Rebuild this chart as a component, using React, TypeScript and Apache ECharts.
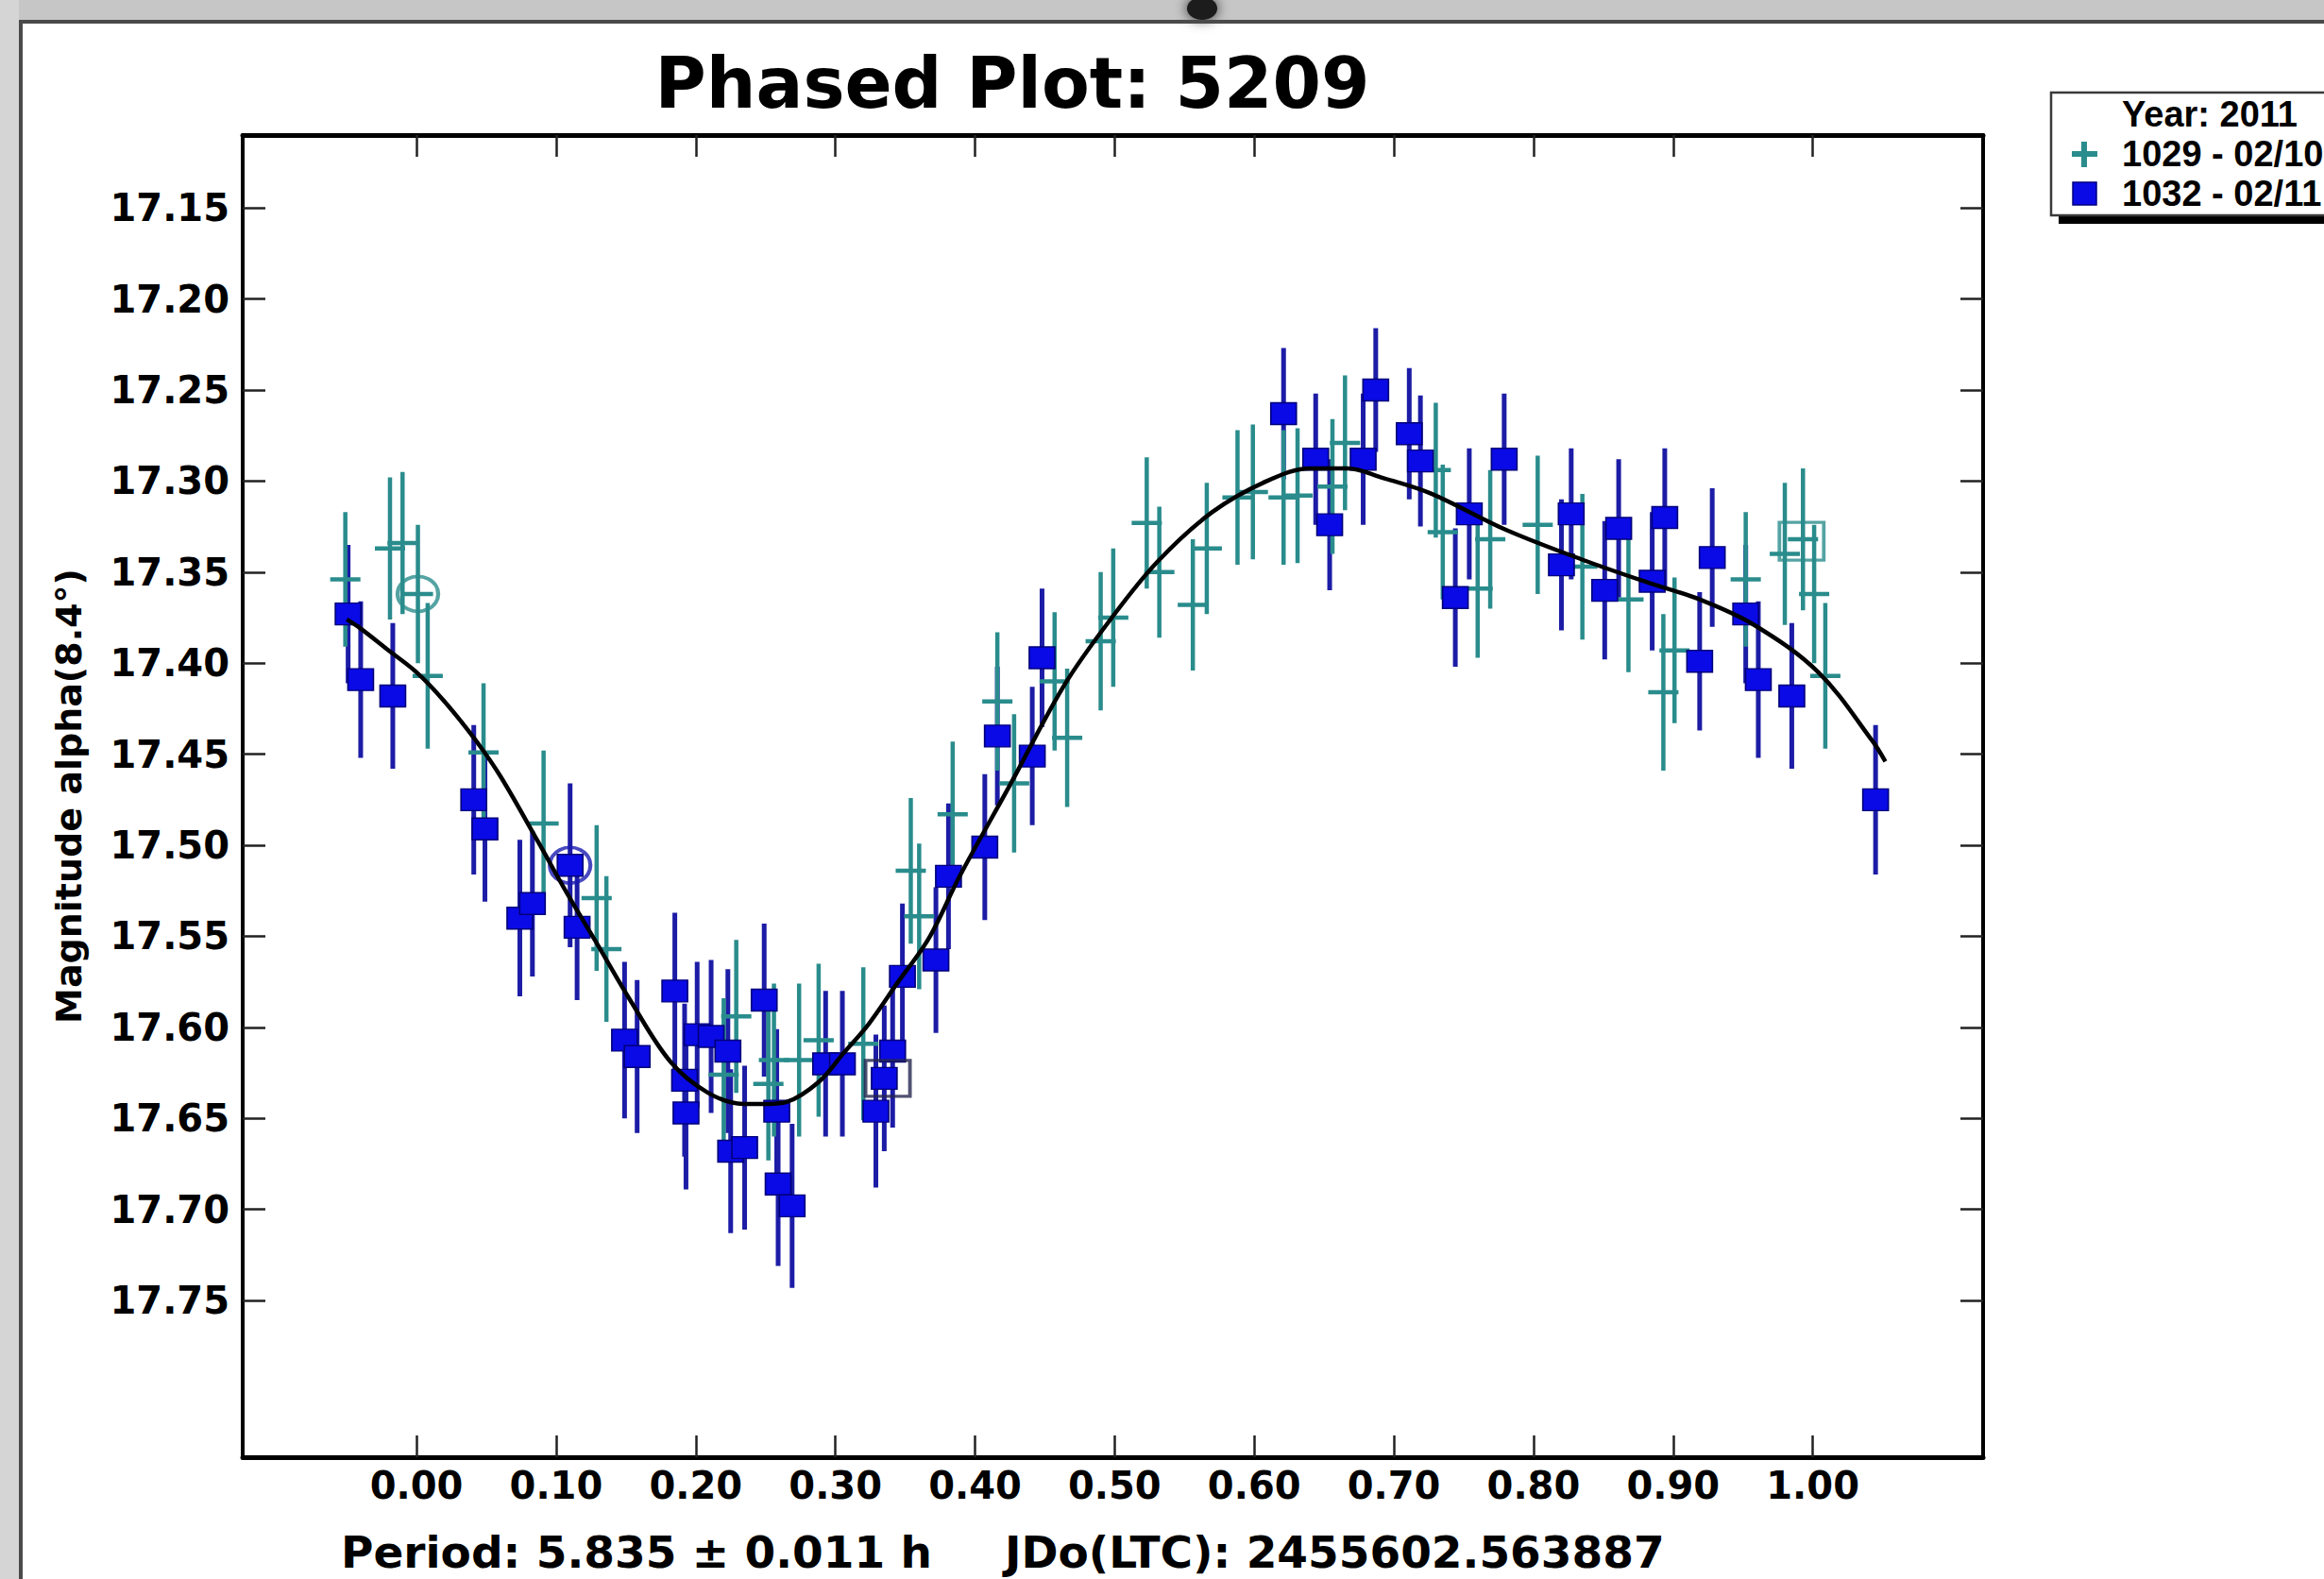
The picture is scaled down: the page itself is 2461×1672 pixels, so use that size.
import React, { useEffect, useRef } from "react";
import * as echarts from "echarts";

// ---------- data ----------
const xTicks = [0, 0.1, 0.2, 0.3, 0.4, 0.5, 0.6, 0.7, 0.8, 0.9, 1.0];
const yTicks = [17.15, 17.2, 17.25, 17.3, 17.35, 17.4, 17.45, 17.5, 17.55, 17.6, 17.65, 17.7, 17.75];

// session 1032 - 02/11 (blue squares)
const bluePhase = [
  -0.049, -0.04, -0.017, 0.041, 0.049, 0.074, 0.083, 0.11, 0.115, 0.149,
  0.158, 0.185, 0.192, 0.193, 0.201, 0.211, 0.223, 0.225, 0.235, 0.249,
  0.258, 0.259, 0.269, 0.293, 0.305, 0.329, 0.335, 0.341, 0.348, 0.372,
  0.381, 0.407, 0.416, 0.441, 0.448, 0.621, 0.644, 0.654, 0.678, 0.687,
  0.711, 0.719, 0.744, 0.754, 0.779, 0.82, 0.827, 0.851, 0.861, 0.885,
  0.894, 0.919, 0.928, 0.952, 0.961, 0.985, 1.045,
];
const blueMag = [
  17.373, 17.409, 17.418, 17.475, 17.491, 17.54, 17.532, 17.511, 17.545, 17.607,
  17.616, 17.58, 17.629, 17.647, 17.604, 17.605, 17.613, 17.668, 17.666, 17.585,
  17.646, 17.686, 17.698, 17.62, 17.62, 17.646, 17.628, 17.613, 17.572, 17.563,
  17.517, 17.501, 17.44, 17.451, 17.397, 17.263, 17.288, 17.324, 17.288, 17.25,
  17.274, 17.289, 17.364, 17.318, 17.288, 17.346, 17.318, 17.36, 17.326, 17.355,
  17.32, 17.399, 17.342, 17.373, 17.409, 17.418, 17.475,
];
const blueErr = [
  0.038, 0.043, 0.04, 0.041, 0.04, 0.043, 0.04, 0.045, 0.04, 0.043,
  0.042, 0.043, 0.042, 0.042, 0.04, 0.042, 0.045, 0.045, 0.045, 0.042,
  0.045, 0.045, 0.045, 0.04, 0.04, 0.042, 0.04, 0.042, 0.04, 0.04,
  0.04, 0.04, 0.038, 0.038, 0.038, 0.036, 0.036, 0.036, 0.036, 0.034,
  0.036, 0.036, 0.038, 0.036, 0.036, 0.036, 0.036, 0.038, 0.038, 0.038,
  0.038, 0.038, 0.038, 0.038, 0.043, 0.04, 0.041,
];

// session 1029 - 02/10 (teal crosses)
const tealPhase = [
  -0.051, -0.019, -0.01, 0.001, 0.008, 0.048, 0.091, 0.129, 0.136, 0.22,
  0.229, 0.252, 0.256, 0.274, 0.288, 0.32, 0.354, 0.36, 0.384, 0.416,
  0.428, 0.457, 0.466, 0.49, 0.499, 0.523, 0.532, 0.556, 0.566, 0.588,
  0.599, 0.621, 0.631, 0.656, 0.665, 0.73, 0.735, 0.76, 0.769, 0.803,
  0.835, 0.868, 0.893, 0.901, 0.952, 0.98, 0.993, 1.001, 1.009,
];
const tealMag = [
  17.354, 17.337, 17.334, 17.362, 17.407, 17.449, 17.488, 17.529, 17.557, 17.626,
  17.594, 17.631, 17.618, 17.618, 17.607, 17.609, 17.514, 17.539, 17.483, 17.421,
  17.466, 17.41, 17.441, 17.388, 17.375, 17.323, 17.35, 17.368, 17.337, 17.309,
  17.306, 17.309, 17.308, 17.303, 17.279, 17.294, 17.328, 17.359, 17.332, 17.324,
  17.347, 17.365, 17.416, 17.393, 17.354, 17.34, 17.332, 17.362, 17.407,
];
const tealErr = [
  0.037, 0.039, 0.039, 0.038, 0.04, 0.038, 0.04, 0.04, 0.04, 0.042,
  0.042, 0.042, 0.042, 0.042, 0.042, 0.042, 0.04, 0.04, 0.04, 0.038,
  0.038, 0.038, 0.038, 0.038, 0.038, 0.036, 0.036, 0.036, 0.036, 0.037,
  0.037, 0.037, 0.037, 0.037, 0.037, 0.037, 0.037, 0.038, 0.038, 0.038,
  0.04, 0.04, 0.043, 0.04, 0.037, 0.039, 0.039, 0.038, 0.04,
];

// fitted Fourier curve
const curvePhase = [
  -0.05, -0.04, -0.02, 0.0, 0.02, 0.042, 0.06, 0.087, 0.1075, 0.13,
  0.153, 0.182, 0.209, 0.234, 0.252, 0.265, 0.288, 0.306, 0.324, 0.344,
  0.367, 0.389, 0.425, 0.464, 0.498, 0.531, 0.57, 0.609, 0.64, 0.667,
  0.691, 0.727, 0.781, 0.838, 0.883, 0.919, 0.958, 1.004, 1.043, 1.052,
];
const curveMag = [
  17.376, 17.381, 17.393, 17.405, 17.421, 17.442, 17.462, 17.498, 17.526, 17.555,
  17.585, 17.619, 17.636, 17.642, 17.642, 17.641, 17.63, 17.614, 17.598, 17.576,
  17.551, 17.517, 17.467, 17.412, 17.375, 17.344, 17.317, 17.3, 17.293, 17.293,
  17.298, 17.307, 17.327, 17.344, 17.356, 17.365, 17.379, 17.405, 17.443, 17.454,
];

// session-start markers
const tealCircle = [[0.001, 17.362]];
const blueCircle = [[0.11, 17.511]];
const tealSquare = [[0.992, 17.333]];
const darkSquare = [[0.3375, 17.628]];

const legendTitle = "Year: 2011";
const tealName = "1029 - 02/10";
const blueName = "1032 - 02/11";

// ---------- styles ----------
const TEAL = "#2a8c8c";
const BLUE_BAR = "#1c1ca6";
const BLUE_FILL = "#0a0ae6";
const FONT = "DejaVu Sans";

const X_MIN = -0.1245;
const X_MAX = 1.122;
const Y_MIN = 17.11;
const Y_MAX = 17.836;

const fmt2 = (v: number) => v.toFixed(2);

function buildOption() {
  const blueData = bluePhase.map((p, i) => [p, blueMag[i], blueErr[i]]);
  const tealData = tealPhase.map((p, i) => [p, tealMag[i], tealErr[i]]);
  const curveData = curvePhase.map((p, i) => [p, curveMag[i]]);

  const tickLabel = {
    fontFamily: FONT,
    fontWeight: "bold",
    fontSize: 40,
    color: "#000",
  };

  const baseX = {
    type: "value",
    min: X_MIN,
    max: X_MAX,
    splitLine: { show: false },
    axisLine: { show: true, onZero: false, lineStyle: { color: "#000", width: 5 } },
    axisTick: {
      show: true,
      inside: true,
      length: 23,
      customValues: xTicks,
      lineStyle: { color: "#222", width: 2.5 },
    },
  };
  const baseY = {
    type: "value",
    min: Y_MIN,
    max: Y_MAX,
    inverse: true,
    splitLine: { show: false },
    axisLine: { show: true, onZero: false, lineStyle: { color: "#000", width: 4 } },
    axisTick: {
      show: true,
      inside: true,
      length: 24,
      customValues: yTicks,
      lineStyle: { color: "#222", width: 2.5 },
    },
  };

  const txt = (text: string, x: number, y: number, font: string, align = "left") => ({
    type: "text",
    x,
    y,
    style: {
      text,
      font,
      fill: "#000",
      textAlign: align,
      textVerticalAlign: "middle",
      align,
      verticalAlign: "middle",
    },
  });

  return {
    animation: false,
    backgroundColor: "#ffffff",
    grid: { left: 257, top: 143, width: 1843, height: 1400, show: false },
    xAxis: [
      {
        ...baseX,
        position: "bottom",
        axisLabel: { ...tickLabel, customValues: xTicks, formatter: fmt2, margin: 10 },
      },
      { ...baseX, position: "top", axisLabel: { show: false } },
    ],
    yAxis: [
      {
        ...baseY,
        position: "left",
        name: "Magnitude alpha(8.4°)",
        nameLocation: "middle",
        nameRotate: 90,
        nameGap: 165,
        nameTextStyle: { fontFamily: FONT, fontWeight: "bold", fontSize: 38, color: "#000" },
        axisLabel: { ...tickLabel, customValues: yTicks, formatter: fmt2, margin: 14 },
      },
      { ...baseY, position: "right", axisLabel: { show: false } },
    ],
    graphic: [
      // screen-capture frame
      { type: "rect", z: -10, shape: { x: 0, y: 0, width: 2461, height: 21 }, style: { fill: "#c6c6c6" } },
      { type: "rect", z: -10, shape: { x: 0, y: 0, width: 20, height: 1672 }, style: { fill: "#d5d5d5" } },
      {
        type: "ellipse",
        z: -9,
        shape: { cx: 1273, cy: 9, rx: 16, ry: 12 },
        style: { fill: "#1a1a1a", shadowBlur: 14, shadowColor: "rgba(0,0,0,0.8)" },
      },
      { type: "line", z: -8, shape: { x1: 20, y1: 23, x2: 2461, y2: 23 }, style: { stroke: "#4a4a4a", lineWidth: 4 } },
      { type: "line", z: -8, shape: { x1: 22, y1: 21, x2: 22, y2: 1672 }, style: { stroke: "#4a4a4a", lineWidth: 4 } },
      // title
      txt("Phased Plot: 5209", 1072, 88, `bold 74px "${FONT}"`, "center"),
      // footer
      txt("Period: 5.835 ± 0.011 h", 361, 1643, `bold 47px "${FONT}"`),
      txt("JDo(LTC): 2455602.563887", 1064, 1643, `bold 47px "${FONT}"`),
      // legend
      { type: "rect", shape: { x: 2180, y: 107, width: 320, height: 130 }, style: { fill: "#000" } },
      {
        type: "rect",
        shape: { x: 2172, y: 98, width: 320, height: 130 },
        style: { fill: "#fff", stroke: "#3a3a3a", lineWidth: 2.5 },
      },
      txt(legendTitle, 2247, 121, 'bold 38px "Liberation Sans"'),
      txt(tealName, 2247, 163, 'bold 38px "Liberation Sans"'),
      txt(blueName, 2247, 205, 'bold 38px "Liberation Sans"'),
      { type: "line", shape: { x1: 2194, y1: 163, x2: 2221, y2: 163 }, style: { stroke: TEAL, lineWidth: 6 } },
      { type: "line", shape: { x1: 2207, y1: 150, x2: 2207, y2: 177 }, style: { stroke: TEAL, lineWidth: 6 } },
      {
        type: "rect",
        shape: { x: 2195, y: 193, width: 25, height: 24 },
        style: { fill: BLUE_FILL, stroke: "#000080", lineWidth: 1.5 },
      },
    ],
    series: [
      {
        name: blueName + " error",
        type: "custom",
        xAxisIndex: 0,
        yAxisIndex: 0,
        data: blueData,
        encode: { x: 0, y: 1 },
        renderItem: (params: any, api: any) => {
          const x = api.value(0);
          const y = api.value(1);
          const e = api.value(2);
          const a = api.coord([x, y - e]);
          const b = api.coord([x, y + e]);
          return {
            type: "line",
            shape: { x1: a[0], y1: a[1], x2: b[0], y2: b[1] },
            style: { stroke: BLUE_BAR, lineWidth: 5 },
          };
        },
      },
      {
        name: tealName,
        type: "custom",
        xAxisIndex: 0,
        yAxisIndex: 0,
        data: tealData,
        encode: { x: 0, y: 1 },
        renderItem: (params: any, api: any) => {
          const x = api.value(0);
          const y = api.value(1);
          const e = api.value(2);
          const a = api.coord([x, y - e]);
          const b = api.coord([x, y + e]);
          const c = api.coord([x, y]);
          return {
            type: "group",
            children: [
              {
                type: "line",
                shape: { x1: a[0], y1: a[1], x2: b[0], y2: b[1] },
                style: { stroke: TEAL, lineWidth: 4.5 },
              },
              {
                type: "line",
                shape: { x1: c[0] - 16, y1: c[1], x2: c[0] + 16, y2: c[1] },
                style: { stroke: TEAL, lineWidth: 4.5 },
              },
            ],
          };
        },
      },
      {
        name: "fit",
        type: "line",
        data: curveData,
        smooth: 0.35,
        showSymbol: false,
        lineStyle: { color: "#000", width: 4.5 },
      },
      {
        name: blueName,
        type: "scatter",
        data: blueData.map((d) => [d[0], d[1]]),
        symbol: "rect",
        symbolSize: [27, 23],
        itemStyle: { color: BLUE_FILL, borderColor: "#00007a", borderWidth: 1.5, opacity: 1 },
      },
      {
        name: "start-teal-circle",
        type: "scatter",
        data: tealCircle,
        symbol: "circle",
        symbolSize: [43, 37],
        itemStyle: { color: "rgba(0,0,0,0)", borderColor: TEAL, borderWidth: 4 },
      },
      {
        name: "start-blue-circle",
        type: "scatter",
        data: blueCircle,
        symbol: "circle",
        symbolSize: [43, 38],
        itemStyle: { color: "rgba(0,0,0,0)", borderColor: "#1a1ab0", borderWidth: 4 },
      },
      {
        name: "end-teal-square",
        type: "scatter",
        data: tealSquare,
        symbol: "rect",
        symbolSize: [47, 40],
        itemStyle: { color: "rgba(0,0,0,0)", borderColor: TEAL, borderWidth: 3.5 },
      },
      {
        name: "end-dark-square",
        type: "scatter",
        data: darkSquare,
        symbol: "rect",
        symbolSize: [47, 38],
        itemStyle: { color: "rgba(0,0,0,0)", borderColor: "#262650", borderWidth: 3.5 },
      },
    ],
  };
}

export default function App() {
  const ref = useRef<HTMLDivElement>(null);
  useEffect(() => {
    if (!ref.current) return;
    const chart = echarts.init(ref.current, null, { renderer: "svg" });
    chart.setOption(buildOption() as any);
    return () => chart.dispose();
  }, []);
  return (
    <div
      ref={ref}
      style={{ position: "absolute", left: 0, top: 0, width: 2461, height: 1672 }}
    />
  );
}
